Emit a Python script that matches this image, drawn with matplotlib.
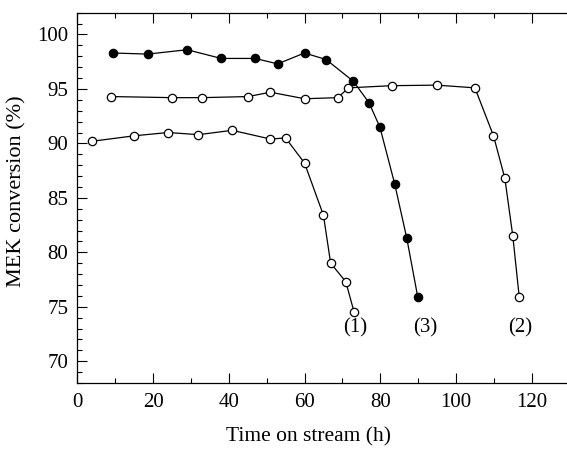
import matplotlib
matplotlib.use("Agg")
from matplotlib import pyplot as plt
from matplotlib.ticker import MultipleLocator

# run (1): open circles, lowest curve
t1 = [4.0, 15.1, 24.0, 32.0, 40.9, 51.0, 55.0, 60.0, 65.0, 66.9, 70.9, 73.1]
x1 = [90.2, 90.7, 91.0, 90.8, 91.2, 90.4, 90.5, 88.2, 83.4, 79.0, 77.3, 74.5]

# run (2): open circles, middle curve
t2 = [9.0, 25.0, 33.0, 45.1, 51.0, 60.0, 68.8, 71.6, 83.0, 94.9, 105.0, 109.9, 112.9, 115.0, 116.7]
x2 = [94.3, 94.2, 94.2, 94.3, 94.7, 94.1, 94.2, 95.1, 95.3, 95.35, 95.1, 90.7, 86.8, 81.5, 75.9]

# run (3): filled circles
t3 = [9.3, 18.6, 29.0, 38.0, 47.0, 52.9, 60.0, 65.7, 72.9, 77.0, 79.9, 83.8, 87.0, 89.9]
x3 = [98.3, 98.2, 98.6, 97.8, 97.8, 97.3, 98.3, 97.7, 95.7, 93.75, 91.5, 86.3, 81.3, 75.9]

run_labels = ["(1)", "(2)", "(3)"]
label_pos = [(73.3, 73.1), (116.9, 73.1), (91.8, 73.1)]

plt.rcParams['font.family'] = ['Liberation Serif', 'DejaVu Serif']

fig = plt.figure(figsize=(5.67, 4.49), dpi=100)
# axes runs a little past the right edge of the picture (cropped original)
ax = fig.add_axes([77.3 / 567, 1 - 383 / 449, (569.6 - 77.3) / 567, (383 - 12.7) / 449])

style = dict(color='black', lw=0.9, marker='o', ms=6, mew=0.9)
ax.plot(t1, x1, mfc='white', mec='black', **style)
ax.plot(t2, x2, mfc='white', mec='black', **style)
ax.plot(t3, x3, mfc='black', mec='black', **style)

for lab, (tx, ty) in zip(run_labels, label_pos):
    ax.text(tx, ty, lab, ha='center', va='center', fontsize=15)

ax.set_xlim(0, 130)
ax.set_ylim(68, 102)
ax.xaxis.set_major_locator(MultipleLocator(20))
ax.xaxis.set_minor_locator(MultipleLocator(10))
ax.yaxis.set_minor_locator(MultipleLocator(1))
ax.set_yticks([70, 75, 80, 85, 90, 95, 100])
ax.tick_params(which='both', direction='in', top=True, right=False, labelsize=15, width=0.8)
ax.tick_params(which='major', length=7)
ax.tick_params(which='minor', length=3.5)
ax.tick_params(axis='y', pad=6.5)
ax.tick_params(axis='x', pad=7.5)
ax.spines['right'].set_visible(False)
for s in ax.spines.values():
    s.set_linewidth(0.9)

ax.set_xlabel('Time on stream (h)', fontsize=15.5)
ax.set_ylabel('MEK conversion (%)', fontsize=16)
ax.xaxis.set_label_coords((308.5 - 77.3) / 492.3, (383 - 427) / 370.3)
ax.yaxis.set_label_coords((26 - 77.3) / 492.3, (383 - 191) / 370.3)

fig.savefig('out.png', dpi=100)
